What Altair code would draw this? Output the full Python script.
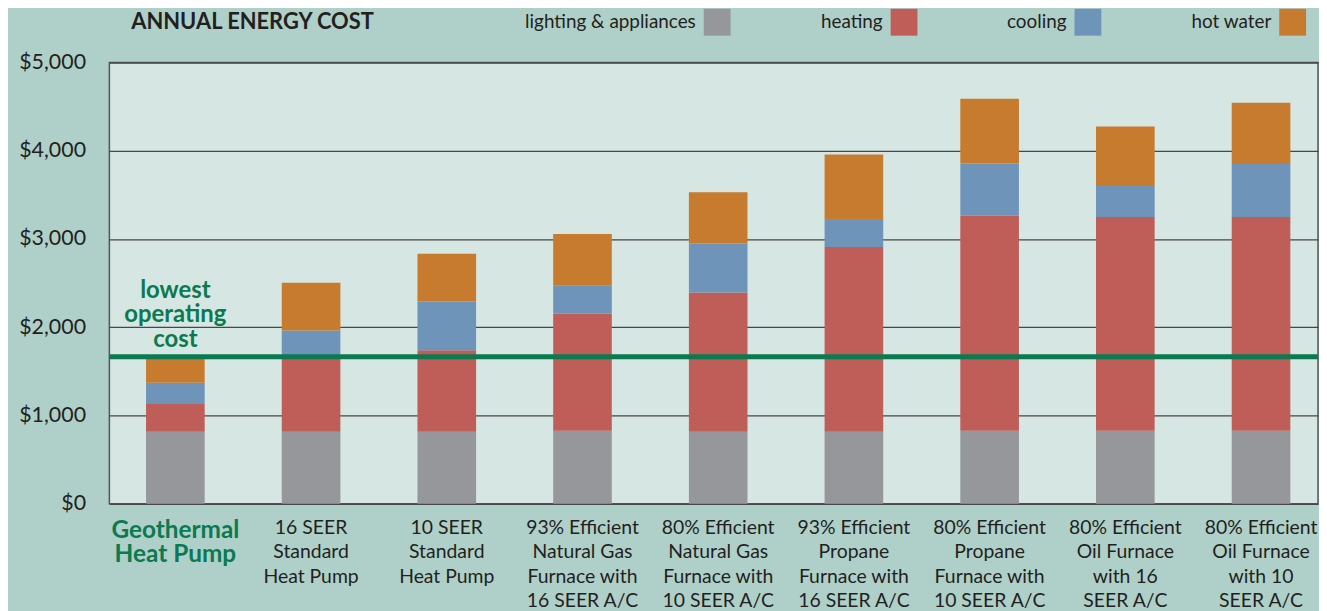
import altair as alt
import pandas as pd

categories = [
    "Geothermal\nHeat Pump",
    "16 SEER\nStandard\nHeat Pump",
    "10 SEER\nStandard\nHeat Pump",
    "93% Efficient\nNatural Gas\nFurnace with\n16 SEER A/C",
    "80% Efficient\nNatural Gas\nFurnace with\n10 SEER A/C",
    "93% Efficient\nPropane\nFurnace with\n16 SEER A/C",
    "80% Efficient\nPropane\nFurnace with\n10 SEER A/C",
    "80% Efficient\nOil Furnace\nwith 16\nSEER A/C",
    "80% Efficient\nOil Furnace\nwith 10\nSEER A/C",
]
series = ["lighting & appliances", "heating", "cooling", "hot water"]
colors = ["#96979A", "#BF5D58", "#6E95B9", "#C77B2E"]

lighting = [816, 816, 816, 828, 816, 816, 828, 828, 828]
heating = [316, 865, 924, 1329, 1577, 2095, 2436, 2421, 2421]
cooling = [240, 284, 552, 315, 555, 315, 593, 353, 600]
hot_water = [268, 541, 540, 585, 582, 732, 732, 672, 695]

lowest_cost = 1667
annotation = "lowest\noperating\ncost"
yticks = [0, 1000, 2000, 3000, 4000, 5000]

rows = []
for s_i, (name, vals) in enumerate(zip(series, [lighting, heating, cooling, hot_water])):
    for c, v in zip(categories, vals):
        rows.append({"category": c, "series": name, "cost": v, "idx": s_i})
df = pd.DataFrame(rows)

line_df = pd.DataFrame({"cost": [lowest_cost], "category": [categories[0]], "label": [annotation]})

FONT = "Lato"
DARK = "#231F20"
GREEN = "#0B7A50"
geo_test = "indexof(datum.value, 'Geothermal') >= 0"

x_enc = alt.X(
    "category:N",
    sort=categories,
    scale=alt.Scale(paddingInner=0.568, paddingOuter=0.237, align=0.57, round=False),
    axis=alt.Axis(
        title=None,
        labelAngle=0,
        ticks=False,
        domain=False,
        labelPadding=15,
        labelBaseline="top",
        labelLineHeight=24.5,
        labelExpr="split(datum.label, '\\n')",
        labelFont=FONT,
        labelFontSize={"condition": {"test": geo_test, "value": 24.5}, "value": 19.5},
        labelFontWeight={"condition": {"test": geo_test, "value": "bold"}, "value": "normal"},
        labelColor={"condition": {"test": geo_test, "value": GREEN}, "value": DARK},
        labelLimit=250,
        labelOverlap=False,
    ),
)
y_scale = alt.Scale(domain=[0, 5000], nice=False)

bars = alt.Chart(df).mark_bar().encode(
    x=x_enc,
    y=alt.Y(
        "cost:Q",
        stack="zero",
        scale=y_scale,
        axis=alt.Axis(
            title=None,
            values=yticks,
            format="$,.0f",
            ticks=False,
            domain=False,
            labelPadding=24,
            labelFont=FONT,
            labelFontSize=21.5,
            labelColor=DARK,
            gridColor="#474747",
            gridWidth=1.3,
        ),
    ),
    color=alt.Color(
        "series:N",
        scale=alt.Scale(domain=series, range=colors),
        legend=alt.Legend(
            title=None,
            orient="none",
            legendX=598,
            legendY=-54,
            direction="horizontal",
            symbolType="square",
            symbolSize=729,
            symbolStrokeWidth=0,
            symbolOpacity=1,
            labelAlign="right",
            labelOffset={"expr": "-35"},
            labelFont=FONT,
            labelFontSize=19,
            labelColor=DARK,
            labelLimit=300,
            columnPadding=90,
            padding=0,
        ),
    ),
    order=alt.Order("idx:Q", sort="ascending"),
)

rule = alt.Chart(line_df).mark_rule(color=GREEN, strokeWidth=5).encode(
    y=alt.Y("cost:Q", scale=y_scale)
)

note = alt.Chart(line_df).mark_text(
    font=FONT,
    fontSize=24,
    fontWeight="bold",
    color=GREEN,
    lineBreak="\n",
    lineHeight=24.5,
    baseline="bottom",
    align="center",
    dy=-54,
).encode(
    x=alt.X("category:N", sort=categories),
    y=alt.Y("cost:Q", scale=y_scale),
    text="label:N",
)

chart = (
    alt.layer(bars, rule, note)
    .properties(
        width=1216,
        height=444,
        autosize=alt.AutoSizeParams(type="none"),
        padding={"left": 102, "top": 53, "right": 1, "bottom": 106},
        title=alt.TitleParams(
            "ANNUAL ENERGY COST",
            anchor="start",
            frame="group",
            dx=22,
            dy=25,
            offset=0,
            font=FONT,
            fontSize=22,
            fontWeight="bold",
            color=DARK,
        ),
    )
    .configure(background="#AFD0C9")
    .configure_view(fill="#D6E6E2", stroke="#555555", strokeWidth=1.5)
)

chart.save("out.html", embed_options={"renderer": "svg", "actions": False})
